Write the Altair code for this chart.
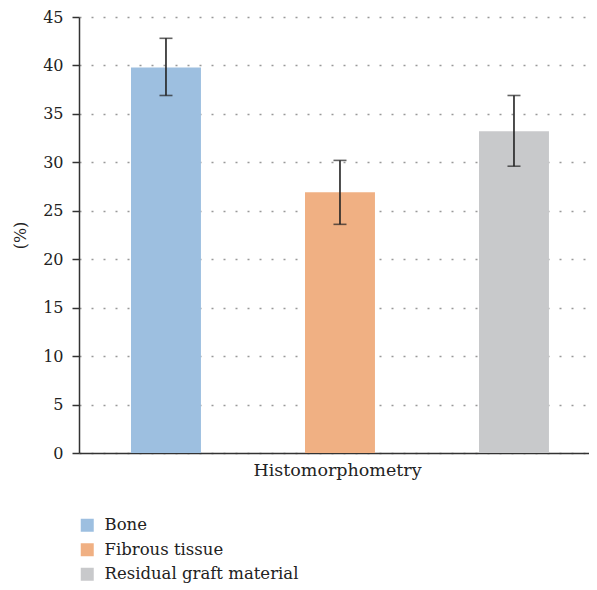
import altair as alt
import pandas as pd

categories = ["Bone", "Fibrous tissue", "Residual graft material"]
means = [39.8, 26.9, 33.2]
err_low = [36.9, 23.6, 29.6]
err_high = [42.8, 30.2, 36.9]
colors = ["#9DBFE0", "#F0B083", "#C8C9CB"]

df = pd.DataFrame({"cat": categories, "mean": means, "lo": err_low, "hi": err_high})

FONT = "DejaVu Serif"

yaxis = alt.Axis(values=list(range(0, 46, 5)), title="(%)",
                 grid=True, gridDash=[2, 10], gridColor="#999", gridWidth=1.5,
                 domainColor="#333", domainWidth=1.5, tickColor="#333",
                 tickWidth=1.5, tickSize=7, labelPadding=9,
                 labelFont=FONT, labelFontSize=16, labelColor="#222",
                 titleFont=FONT, titleFontSize=16, titleFontWeight="normal",
                 titleColor="#222", titleAngle=-90, titleX=-59, titleY=218,
                 titleAlign="center", titleBaseline="middle")

x = alt.X("cat:N", sort=categories,
          scale=alt.Scale(paddingInner=0.598, paddingOuter=0.2645, align=0.565),
          axis=alt.Axis(title="Histomorphometry", labels=False, ticks=False,
                        domainColor="#333", domainWidth=1.5, titleFontWeight="normal",
                        titleFontSize=17.5, titleFont=FONT, titleColor="#222",
                        titlePadding=8, titleX=258))

bars = alt.Chart(df).mark_bar().encode(
    x=x,
    y=alt.Y("mean:Q", scale=alt.Scale(domain=[0, 45]), axis=yaxis),
    color=alt.Color("cat:N", sort=categories,
                    scale=alt.Scale(domain=categories, range=colors),
                    legend=alt.Legend(title=None, orient="none", legendX=0, legendY=500,
                                      symbolType="square", symbolSize=169,
                                      symbolStrokeWidth=0, labelFont=FONT,
                                      labelFontSize=16.5, labelColor="#222",
                                      labelLimit=400,
                                      rowPadding=7.5, labelOffset=9)),
)

errs = alt.Chart(df).mark_errorbar(ticks=alt.MarkConfig(size=13), color="#222",
                                   thickness=1.6).encode(
    x=alt.X("cat:N", sort=categories),
    y=alt.Y("lo:Q", title="(%)"),
    y2="hi:Q",
)

chart = alt.layer(bars, errs).properties(
    width=510, height=436,
    padding={"left": 71, "top": 9, "right": 0, "bottom": 135},
    autosize=alt.AutoSizeParams(type="none"),
).configure(font=FONT).configure_view(stroke=None)

chart.save("out.html", embed_options={"renderer": "svg", "actions": False})
